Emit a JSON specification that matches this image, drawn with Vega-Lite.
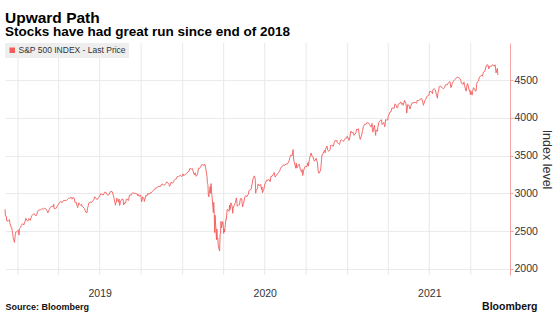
{
  "$schema": "https://vega.github.io/schema/vega-lite/v6.json",
  "width": 505,
  "height": 232,
  "autosize": {"type": "none"},
  "padding": {"left": 5, "top": 43, "right": 44, "bottom": 55},
  "background": "white",
  "title": {
    "text": "Upward Path",
    "subtitle": "Stocks have had great run since end of 2018",
    "anchor": "start",
    "frame": "group",
    "font": "Liberation Sans",
    "fontSize": 15.5,
    "fontWeight": "bold",
    "color": "#000000",
    "subtitleFont": "Liberation Sans",
    "subtitleFontSize": 13.5,
    "subtitleFontWeight": "bold",
    "subtitleColor": "#000000",
    "subtitlePadding": -1,
    "offset": 4
  },
  "config": {
    "view": {"stroke": null},
    "font": "Liberation Sans"
  },
  "datasets": {
    "quarters": [
      {"date": "2019-01-01"}, {"date": "2019-04-01"}, {"date": "2019-07-01"}, {"date": "2019-10-01"},
      {"date": "2020-01-01"}, {"date": "2020-04-01"}, {"date": "2020-07-01"}, {"date": "2020-10-01"},
      {"date": "2021-01-01"}, {"date": "2021-04-01"}, {"date": "2021-07-01"}, {"date": "2021-10-01"}
    ],
    "spx": [
      {"date":"2018-12-03","v":2790},{"date":"2018-12-04","v":2700},{"date":"2018-12-06","v":2696},{"date":"2018-12-07","v":2633},{"date":"2018-12-10","v":2637},{"date":"2018-12-12","v":2651},{"date":"2018-12-13","v":2650},{"date":"2018-12-14","v":2600},{"date":"2018-12-17","v":2546},{"date":"2018-12-18","v":2546},{"date":"2018-12-19","v":2507},{"date":"2018-12-20","v":2467},{"date":"2018-12-21","v":2417},{"date":"2018-12-24","v":2351},{"date":"2018-12-26","v":2468},{"date":"2018-12-27","v":2489},{"date":"2018-12-28","v":2486},{"date":"2018-12-31","v":2507},
      {"date":"2019-01-02","v":2510},{"date":"2019-01-03","v":2448},{"date":"2019-01-04","v":2532},{"date":"2019-01-07","v":2550},{"date":"2019-01-08","v":2575},{"date":"2019-01-09","v":2585},{"date":"2019-01-10","v":2597},{"date":"2019-01-11","v":2596},{"date":"2019-01-14","v":2583},{"date":"2019-01-15","v":2610},{"date":"2019-01-17","v":2636},{"date":"2019-01-18","v":2671},{"date":"2019-01-22","v":2633},{"date":"2019-01-24","v":2643},{"date":"2019-01-25","v":2665},{"date":"2019-01-28","v":2644},{"date":"2019-01-30","v":2681},{"date":"2019-01-31","v":2704},{"date":"2019-02-04","v":2725},{"date":"2019-02-06","v":2731},{"date":"2019-02-08","v":2708},{"date":"2019-02-11","v":2710},{"date":"2019-02-13","v":2753},{"date":"2019-02-15","v":2776},{"date":"2019-02-20","v":2785},{"date":"2019-02-22","v":2793},{"date":"2019-02-25","v":2796},{"date":"2019-02-27","v":2793},{"date":"2019-03-01","v":2804},{"date":"2019-03-04","v":2792},{"date":"2019-03-06","v":2771},{"date":"2019-03-08","v":2743},{"date":"2019-03-11","v":2784},{"date":"2019-03-13","v":2811},{"date":"2019-03-15","v":2822},{"date":"2019-03-18","v":2833},{"date":"2019-03-20","v":2824},{"date":"2019-03-21","v":2855},{"date":"2019-03-22","v":2800},{"date":"2019-03-25","v":2798},{"date":"2019-03-27","v":2806},{"date":"2019-03-29","v":2834},{"date":"2019-04-02","v":2867},{"date":"2019-04-05","v":2893},{"date":"2019-04-09","v":2878},{"date":"2019-04-12","v":2907},{"date":"2019-04-16","v":2907},{"date":"2019-04-18","v":2905},{"date":"2019-04-23","v":2934},{"date":"2019-04-26","v":2940},{"date":"2019-04-30","v":2946},{"date":"2019-05-01","v":2924},{"date":"2019-05-03","v":2946},{"date":"2019-05-06","v":2932},{"date":"2019-05-07","v":2884},{"date":"2019-05-09","v":2871},{"date":"2019-05-10","v":2881},{"date":"2019-05-13","v":2812},{"date":"2019-05-14","v":2834},{"date":"2019-05-16","v":2876},{"date":"2019-05-17","v":2860},{"date":"2019-05-20","v":2841},{"date":"2019-05-22","v":2856},{"date":"2019-05-23","v":2822},{"date":"2019-05-24","v":2826},{"date":"2019-05-28","v":2802},{"date":"2019-05-29","v":2783},{"date":"2019-05-31","v":2752},{"date":"2019-06-03","v":2744},{"date":"2019-06-04","v":2803},{"date":"2019-06-06","v":2843},{"date":"2019-06-07","v":2873},{"date":"2019-06-10","v":2886},{"date":"2019-06-12","v":2879},{"date":"2019-06-14","v":2887},{"date":"2019-06-18","v":2917},{"date":"2019-06-20","v":2954},{"date":"2019-06-21","v":2950},{"date":"2019-06-25","v":2917},{"date":"2019-06-28","v":2942},{"date":"2019-07-01","v":2964},{"date":"2019-07-03","v":2996},{"date":"2019-07-05","v":2990},{"date":"2019-07-09","v":2979},{"date":"2019-07-11","v":3000},{"date":"2019-07-12","v":3014},{"date":"2019-07-15","v":3014},{"date":"2019-07-17","v":2985},{"date":"2019-07-19","v":2977},{"date":"2019-07-22","v":2986},{"date":"2019-07-24","v":3019},{"date":"2019-07-26","v":3026},{"date":"2019-07-29","v":3021},{"date":"2019-07-31","v":2980},{"date":"2019-08-01","v":2954},{"date":"2019-08-02","v":2932},{"date":"2019-08-05","v":2844},{"date":"2019-08-06","v":2882},{"date":"2019-08-07","v":2884},{"date":"2019-08-08","v":2938},{"date":"2019-08-09","v":2919},{"date":"2019-08-12","v":2883},{"date":"2019-08-13","v":2926},{"date":"2019-08-14","v":2840},{"date":"2019-08-15","v":2848},{"date":"2019-08-16","v":2889},{"date":"2019-08-19","v":2923},{"date":"2019-08-21","v":2924},{"date":"2019-08-22","v":2922},{"date":"2019-08-23","v":2847},{"date":"2019-08-26","v":2878},{"date":"2019-08-27","v":2870},{"date":"2019-08-28","v":2887},{"date":"2019-08-29","v":2924},{"date":"2019-08-30","v":2926},{"date":"2019-09-03","v":2906},{"date":"2019-09-05","v":2977},{"date":"2019-09-06","v":2979},{"date":"2019-09-09","v":2979},{"date":"2019-09-11","v":3000},{"date":"2019-09-12","v":3009},{"date":"2019-09-13","v":3007},{"date":"2019-09-16","v":2998},{"date":"2019-09-18","v":3006},{"date":"2019-09-20","v":2992},{"date":"2019-09-23","v":2991},{"date":"2019-09-24","v":2966},{"date":"2019-09-25","v":2985},{"date":"2019-09-27","v":2962},{"date":"2019-09-30","v":2977},{"date":"2019-10-01","v":2940},{"date":"2019-10-02","v":2888},{"date":"2019-10-03","v":2910},{"date":"2019-10-04","v":2952},{"date":"2019-10-07","v":2939},{"date":"2019-10-08","v":2893},{"date":"2019-10-10","v":2938},{"date":"2019-10-11","v":2970},{"date":"2019-10-14","v":2966},{"date":"2019-10-15","v":2996},{"date":"2019-10-17","v":2998},{"date":"2019-10-18","v":2986},{"date":"2019-10-21","v":3007},{"date":"2019-10-23","v":3004},{"date":"2019-10-25","v":3023},{"date":"2019-10-28","v":3040},{"date":"2019-10-30","v":3047},{"date":"2019-11-01","v":3067},{"date":"2019-11-05","v":3075},{"date":"2019-11-07","v":3085},{"date":"2019-11-08","v":3093},{"date":"2019-11-12","v":3092},{"date":"2019-11-14","v":3097},{"date":"2019-11-15","v":3120},{"date":"2019-11-18","v":3122},{"date":"2019-11-20","v":3108},{"date":"2019-11-22","v":3110},{"date":"2019-11-25","v":3134},{"date":"2019-11-27","v":3154},{"date":"2019-11-29","v":3141},{"date":"2019-12-02","v":3114},{"date":"2019-12-03","v":3093},{"date":"2019-12-05","v":3118},{"date":"2019-12-06","v":3146},{"date":"2019-12-09","v":3136},{"date":"2019-12-11","v":3142},{"date":"2019-12-13","v":3169},{"date":"2019-12-16","v":3192},{"date":"2019-12-18","v":3192},{"date":"2019-12-20","v":3221},{"date":"2019-12-23","v":3224},{"date":"2019-12-27","v":3240},{"date":"2019-12-30","v":3221},{"date":"2019-12-31","v":3231},
      {"date":"2020-01-02","v":3258},{"date":"2020-01-03","v":3235},{"date":"2020-01-06","v":3246},{"date":"2020-01-08","v":3253},{"date":"2020-01-10","v":3265},{"date":"2020-01-13","v":3288},{"date":"2020-01-15","v":3289},{"date":"2020-01-17","v":3330},{"date":"2020-01-21","v":3321},{"date":"2020-01-23","v":3326},{"date":"2020-01-24","v":3295},{"date":"2020-01-27","v":3244},{"date":"2020-01-29","v":3273},{"date":"2020-01-31","v":3226},{"date":"2020-02-03","v":3249},{"date":"2020-02-05","v":3334},{"date":"2020-02-07","v":3328},{"date":"2020-02-10","v":3352},{"date":"2020-02-12","v":3379},{"date":"2020-02-14","v":3380},{"date":"2020-02-18","v":3370},{"date":"2020-02-19","v":3386},{"date":"2020-02-20","v":3373},{"date":"2020-02-21","v":3338},{"date":"2020-02-24","v":3226},{"date":"2020-02-25","v":3128},{"date":"2020-02-26","v":3116},{"date":"2020-02-27","v":2979},{"date":"2020-02-28","v":2954},{"date":"2020-03-02","v":3090},{"date":"2020-03-03","v":3003},{"date":"2020-03-04","v":3130},{"date":"2020-03-05","v":3024},{"date":"2020-03-06","v":2972},{"date":"2020-03-09","v":2747},{"date":"2020-03-10","v":2882},{"date":"2020-03-11","v":2741},{"date":"2020-03-12","v":2481},{"date":"2020-03-13","v":2711},{"date":"2020-03-16","v":2386},{"date":"2020-03-17","v":2529},{"date":"2020-03-18","v":2398},{"date":"2020-03-19","v":2409},{"date":"2020-03-20","v":2305},{"date":"2020-03-23","v":2237},{"date":"2020-03-24","v":2447},{"date":"2020-03-25","v":2476},{"date":"2020-03-26","v":2630},{"date":"2020-03-27","v":2541},{"date":"2020-03-30","v":2627},{"date":"2020-03-31","v":2585},{"date":"2020-04-01","v":2471},{"date":"2020-04-02","v":2527},{"date":"2020-04-03","v":2489},{"date":"2020-04-06","v":2664},{"date":"2020-04-07","v":2659},{"date":"2020-04-08","v":2750},{"date":"2020-04-09","v":2790},{"date":"2020-04-13","v":2762},{"date":"2020-04-14","v":2846},{"date":"2020-04-15","v":2784},{"date":"2020-04-16","v":2800},{"date":"2020-04-17","v":2875},{"date":"2020-04-20","v":2823},{"date":"2020-04-21","v":2737},{"date":"2020-04-22","v":2799},{"date":"2020-04-24","v":2837},{"date":"2020-04-27","v":2878},{"date":"2020-04-29","v":2940},{"date":"2020-04-30","v":2912},{"date":"2020-05-01","v":2830},{"date":"2020-05-04","v":2843},{"date":"2020-05-06","v":2848},{"date":"2020-05-08","v":2930},{"date":"2020-05-11","v":2930},{"date":"2020-05-12","v":2870},{"date":"2020-05-13","v":2820},{"date":"2020-05-14","v":2852},{"date":"2020-05-15","v":2864},{"date":"2020-05-18","v":2954},{"date":"2020-05-20","v":2972},{"date":"2020-05-22","v":2955},{"date":"2020-05-26","v":2992},{"date":"2020-05-27","v":3036},{"date":"2020-05-29","v":3044},{"date":"2020-06-01","v":3056},{"date":"2020-06-03","v":3123},{"date":"2020-06-05","v":3194},{"date":"2020-06-08","v":3232},{"date":"2020-06-10","v":3190},{"date":"2020-06-11","v":3002},{"date":"2020-06-12","v":3041},{"date":"2020-06-15","v":3067},{"date":"2020-06-16","v":3125},{"date":"2020-06-18","v":3115},{"date":"2020-06-19","v":3098},{"date":"2020-06-22","v":3118},{"date":"2020-06-24","v":3050},{"date":"2020-06-25","v":3084},{"date":"2020-06-26","v":3009},{"date":"2020-06-29","v":3053},{"date":"2020-07-01","v":3116},{"date":"2020-07-02","v":3130},{"date":"2020-07-06","v":3180},{"date":"2020-07-08","v":3169},{"date":"2020-07-10","v":3185},{"date":"2020-07-13","v":3155},{"date":"2020-07-15","v":3227},{"date":"2020-07-17","v":3225},{"date":"2020-07-20","v":3251},{"date":"2020-07-22","v":3276},{"date":"2020-07-24","v":3216},{"date":"2020-07-27","v":3239},{"date":"2020-07-29","v":3258},{"date":"2020-07-31","v":3271},{"date":"2020-08-03","v":3295},{"date":"2020-08-05","v":3327},{"date":"2020-08-07","v":3351},{"date":"2020-08-10","v":3360},{"date":"2020-08-12","v":3380},{"date":"2020-08-14","v":3373},{"date":"2020-08-18","v":3390},{"date":"2020-08-20","v":3385},{"date":"2020-08-21","v":3397},{"date":"2020-08-24","v":3431},{"date":"2020-08-26","v":3478},{"date":"2020-08-28","v":3508},{"date":"2020-08-31","v":3500},{"date":"2020-09-02","v":3580},{"date":"2020-09-03","v":3455},{"date":"2020-09-04","v":3427},{"date":"2020-09-08","v":3332},{"date":"2020-09-09","v":3399},{"date":"2020-09-10","v":3339},{"date":"2020-09-11","v":3341},{"date":"2020-09-14","v":3383},{"date":"2020-09-16","v":3385},{"date":"2020-09-18","v":3319},{"date":"2020-09-21","v":3281},{"date":"2020-09-22","v":3316},{"date":"2020-09-23","v":3237},{"date":"2020-09-24","v":3247},{"date":"2020-09-25","v":3298},{"date":"2020-09-28","v":3351},{"date":"2020-09-30","v":3363},{"date":"2020-10-02","v":3348},{"date":"2020-10-05","v":3408},{"date":"2020-10-06","v":3361},{"date":"2020-10-08","v":3447},{"date":"2020-10-09","v":3477},{"date":"2020-10-12","v":3535},{"date":"2020-10-14","v":3489},{"date":"2020-10-16","v":3483},{"date":"2020-10-19","v":3427},{"date":"2020-10-21","v":3436},{"date":"2020-10-23","v":3465},{"date":"2020-10-26","v":3401},{"date":"2020-10-28","v":3271},{"date":"2020-10-30","v":3270},{"date":"2020-11-02","v":3310},{"date":"2020-11-03","v":3370},{"date":"2020-11-04","v":3444},{"date":"2020-11-05","v":3510},{"date":"2020-11-06","v":3509},{"date":"2020-11-09","v":3550},{"date":"2020-11-11","v":3572},{"date":"2020-11-12","v":3537},{"date":"2020-11-13","v":3585},{"date":"2020-11-16","v":3627},{"date":"2020-11-18","v":3568},{"date":"2020-11-20","v":3558},{"date":"2020-11-23","v":3578},{"date":"2020-11-24","v":3635},{"date":"2020-11-27","v":3638},{"date":"2020-11-30","v":3622},{"date":"2020-12-02","v":3669},{"date":"2020-12-04","v":3699},{"date":"2020-12-07","v":3692},{"date":"2020-12-08","v":3702},{"date":"2020-12-09","v":3672},{"date":"2020-12-11","v":3663},{"date":"2020-12-14","v":3647},{"date":"2020-12-16","v":3701},{"date":"2020-12-18","v":3709},{"date":"2020-12-21","v":3694},{"date":"2020-12-23","v":3690},{"date":"2020-12-24","v":3703},{"date":"2020-12-28","v":3735},{"date":"2020-12-30","v":3732},{"date":"2020-12-31","v":3756},
      {"date":"2021-01-04","v":3701},{"date":"2021-01-06","v":3748},{"date":"2021-01-08","v":3824},{"date":"2021-01-11","v":3799},{"date":"2021-01-13","v":3810},{"date":"2021-01-15","v":3768},{"date":"2021-01-19","v":3799},{"date":"2021-01-21","v":3853},{"date":"2021-01-22","v":3841},{"date":"2021-01-25","v":3855},{"date":"2021-01-27","v":3751},{"date":"2021-01-29","v":3714},{"date":"2021-02-01","v":3774},{"date":"2021-02-03","v":3831},{"date":"2021-02-05","v":3887},{"date":"2021-02-08","v":3916},{"date":"2021-02-10","v":3910},{"date":"2021-02-12","v":3934},{"date":"2021-02-16","v":3933},{"date":"2021-02-18","v":3914},{"date":"2021-02-19","v":3907},{"date":"2021-02-22","v":3877},{"date":"2021-02-24","v":3925},{"date":"2021-02-25","v":3829},{"date":"2021-02-26","v":3811},{"date":"2021-03-01","v":3901},{"date":"2021-03-03","v":3820},{"date":"2021-03-04","v":3768},{"date":"2021-03-05","v":3842},{"date":"2021-03-08","v":3821},{"date":"2021-03-09","v":3875},{"date":"2021-03-11","v":3939},{"date":"2021-03-12","v":3943},{"date":"2021-03-15","v":3969},{"date":"2021-03-17","v":3974},{"date":"2021-03-18","v":3915},{"date":"2021-03-19","v":3913},{"date":"2021-03-22","v":3940},{"date":"2021-03-24","v":3881},{"date":"2021-03-25","v":3910},{"date":"2021-03-26","v":3975},{"date":"2021-03-29","v":3971},{"date":"2021-03-31","v":3973},{"date":"2021-04-01","v":4020},{"date":"2021-04-05","v":4078},{"date":"2021-04-07","v":4080},{"date":"2021-04-09","v":4129},{"date":"2021-04-12","v":4128},{"date":"2021-04-14","v":4125},{"date":"2021-04-16","v":4185},{"date":"2021-04-19","v":4163},{"date":"2021-04-20","v":4135},{"date":"2021-04-22","v":4135},{"date":"2021-04-23","v":4180},{"date":"2021-04-26","v":4188},{"date":"2021-04-29","v":4211},{"date":"2021-04-30","v":4181},{"date":"2021-05-03","v":4193},{"date":"2021-05-04","v":4165},{"date":"2021-05-06","v":4202},{"date":"2021-05-07","v":4233},{"date":"2021-05-10","v":4189},{"date":"2021-05-11","v":4152},{"date":"2021-05-12","v":4063},{"date":"2021-05-13","v":4113},{"date":"2021-05-14","v":4174},{"date":"2021-05-17","v":4163},{"date":"2021-05-19","v":4116},{"date":"2021-05-21","v":4156},{"date":"2021-05-24","v":4198},{"date":"2021-05-26","v":4196},{"date":"2021-05-28","v":4204},{"date":"2021-06-01","v":4202},{"date":"2021-06-03","v":4193},{"date":"2021-06-04","v":4230},{"date":"2021-06-07","v":4227},{"date":"2021-06-10","v":4239},{"date":"2021-06-11","v":4247},{"date":"2021-06-14","v":4255},{"date":"2021-06-16","v":4224},{"date":"2021-06-18","v":4166},{"date":"2021-06-21","v":4224},{"date":"2021-06-23","v":4242},{"date":"2021-06-25","v":4281},{"date":"2021-06-28","v":4291},{"date":"2021-06-30","v":4298},{"date":"2021-07-02","v":4352},{"date":"2021-07-06","v":4344},{"date":"2021-07-08","v":4320},{"date":"2021-07-09","v":4370},{"date":"2021-07-12","v":4385},{"date":"2021-07-14","v":4375},{"date":"2021-07-16","v":4327},{"date":"2021-07-19","v":4259},{"date":"2021-07-20","v":4323},{"date":"2021-07-22","v":4368},{"date":"2021-07-23","v":4412},{"date":"2021-07-26","v":4422},{"date":"2021-07-28","v":4401},{"date":"2021-07-30","v":4395},{"date":"2021-08-02","v":4387},{"date":"2021-08-04","v":4403},{"date":"2021-08-06","v":4437},{"date":"2021-08-10","v":4436},{"date":"2021-08-12","v":4460},{"date":"2021-08-13","v":4468},{"date":"2021-08-16","v":4479},{"date":"2021-08-18","v":4400},{"date":"2021-08-19","v":4406},{"date":"2021-08-20","v":4442},{"date":"2021-08-23","v":4480},{"date":"2021-08-25","v":4496},{"date":"2021-08-27","v":4509},{"date":"2021-08-30","v":4529},{"date":"2021-09-02","v":4537},{"date":"2021-09-03","v":4535},{"date":"2021-09-07","v":4520},{"date":"2021-09-09","v":4493},{"date":"2021-09-10","v":4459},{"date":"2021-09-14","v":4443},{"date":"2021-09-16","v":4474},{"date":"2021-09-17","v":4433},{"date":"2021-09-20","v":4358},{"date":"2021-09-21","v":4354},{"date":"2021-09-23","v":4449},{"date":"2021-09-24","v":4455},{"date":"2021-09-28","v":4353},{"date":"2021-09-29","v":4360},{"date":"2021-09-30","v":4308},{"date":"2021-10-01","v":4357},{"date":"2021-10-04","v":4300},{"date":"2021-10-05","v":4346},{"date":"2021-10-07","v":4399},{"date":"2021-10-08","v":4391},{"date":"2021-10-12","v":4351},{"date":"2021-10-13","v":4364},{"date":"2021-10-14","v":4438},{"date":"2021-10-15","v":4471},{"date":"2021-10-18","v":4486},{"date":"2021-10-20","v":4537},{"date":"2021-10-22","v":4545},{"date":"2021-10-25","v":4567},{"date":"2021-10-27","v":4551},{"date":"2021-10-29","v":4605},{"date":"2021-11-01","v":4614},{"date":"2021-11-03","v":4660},{"date":"2021-11-05","v":4697},{"date":"2021-11-08","v":4701},{"date":"2021-11-10","v":4646},{"date":"2021-11-12","v":4683},{"date":"2021-11-15","v":4682},{"date":"2021-11-17","v":4689},{"date":"2021-11-18","v":4704},{"date":"2021-11-19","v":4698},{"date":"2021-11-22","v":4682},{"date":"2021-11-24","v":4701},{"date":"2021-11-26","v":4595},{"date":"2021-11-29","v":4655},{"date":"2021-11-30","v":4567}
    ]
  },
  "layer": [
    {
      "data": {"name": "quarters"},
      "mark": {"type": "rule", "color": "#e9e9e9", "strokeWidth": 1},
      "encoding": {
        "x": {
          "field": "date",
          "type": "temporal",
          "scale": {"type": "utc", "domain": [{"year": 2018, "month": 12, "date": 3, "utc": true}, {"year": 2021, "month": 12, "date": 27, "utc": true}]},
          "axis": {
            "orient": "bottom",
            "domain": false,
            "ticks": false,
            "labels": false,
            "grid": false,
            "title": "Bloomberg",
            "titleFont": "Liberation Sans",
            "titleFontSize": 10.5,
            "titleFontWeight": "bold",
            "titleColor": "#111111",
            "titleAnchor": "end",
            "titleAlign": "right",
            "titleBaseline": "alphabetic",
            "titleX": 532,
            "titleY": 34
          }
        }
      }
    },
    {
      "data": {"name": "spx"},
      "mark": {"type": "line", "color": "#f26a6a", "strokeWidth": 0.9, "interpolate": "linear"},
      "encoding": {
        "x": {
          "field": "date",
          "type": "temporal",
          "scale": {"type": "utc", "domain": [{"year": 2018, "month": 12, "date": 3, "utc": true}, {"year": 2021, "month": 12, "date": 27, "utc": true}]},
          "axis": {
            "orient": "bottom",
            "domain": false,
            "ticks": false,
            "grid": false,
            "values": [
              {"year": 2019, "month": 7, "date": 1, "utc": true},
              {"year": 2020, "month": 7, "date": 1, "utc": true},
              {"year": 2021, "month": 7, "date": 1, "utc": true}
            ],
            "labelExpr": "utcFormat(datum.value, '%Y')",
            "labelFont": "Liberation Sans",
            "labelFontSize": 10.5,
            "labelColor": "#333333",
            "labelPadding": 13,
            "title": "Source: Bloomberg",
            "titleFont": "Liberation Sans",
            "titleFontSize": 9,
            "titleFontWeight": "bold",
            "titleColor": "#111111",
            "titleAnchor": "start",
            "titleAlign": "left",
            "titleBaseline": "alphabetic",
            "titleX": 0,
            "titleY": 34
          }
        },
        "y": {
          "field": "v",
          "type": "quantitative",
          "scale": {"domain": [1920, 4990], "nice": false, "zero": false},
          "axis": {
            "orient": "right",
            "values": [2000, 2500, 3000, 3500, 4000, 4500],
            "format": "d",
            "grid": true,
            "gridColor": "#ebebeb",
            "gridWidth": 1,
            "domainColor": "#f7a3a3",
            "domainWidth": 1,
            "tickColor": "#f7a3a3",
            "tickSize": 3,
            "labelFont": "Liberation Sans",
            "labelFontSize": 10.5,
            "labelColor": "#333333",
            "labelPadding": 1,
            "title": "Index level",
            "titleFont": "Liberation Sans",
            "titleFontSize": 12.5,
            "titleFontWeight": "normal",
            "titleColor": "#333333",
            "titleAngle": 90,
            "titlePadding": 2
          }
        },
        "color": {
          "datum": "S&P 500 INDEX - Last Price",
          "type": "nominal",
          "scale": {"range": ["#f25c5c"]},
          "legend": {
            "orient": "top-left",
            "offset": 0,
            "title": null,
            "fillColor": "#eeeeee",
            "padding": 3,
            "symbolType": "square",
            "symbolSize": 30,
            "symbolFillColor": "#f25c5c",
            "symbolStrokeColor": "#f25c5c",
            "symbolStrokeWidth": 0,
            "symbolOpacity": 1,
            "labelFont": "Liberation Sans",
            "labelFontSize": 8.5,
            "labelColor": "#333333",
            "labelOffset": 2
          }
        }
      }
    }
  ],
  "resolve": {"scale": {"x": "independent"}, "axis": {"x": "independent"}}
}
